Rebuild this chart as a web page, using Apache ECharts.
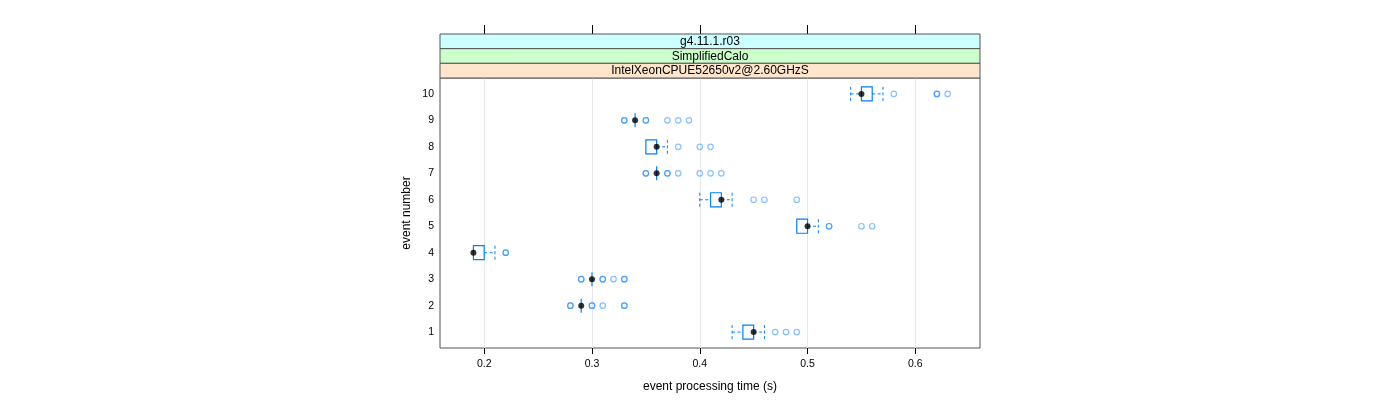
<!DOCTYPE html>
<html>
<head>
<meta charset="utf-8">
<script src="https://cdn.jsdelivr.net/npm/echarts@6/dist/echarts.min.js"></script>
<style>html,body{margin:0;padding:0;background:#fff}#c{width:1400px;height:400px}</style>
</head>
<body>
<div id="c"></div>
<script>
// ---- data ----
const events      = [1, 2, 3, 4, 5, 6, 7, 8, 9, 10];
const whiskerLow  = [0.43, 0.29, 0.30, 0.19, 0.49, 0.40, 0.36, 0.35, 0.34, 0.54];
const quart1      = [0.44, 0.29, 0.30, 0.19, 0.49, 0.41, 0.36, 0.35, 0.34, 0.55];
const medians     = [0.45, 0.29, 0.30, 0.19, 0.50, 0.42, 0.36, 0.36, 0.34, 0.55];
const quart3      = [0.45, 0.29, 0.30, 0.20, 0.50, 0.42, 0.36, 0.36, 0.34, 0.56];
const whiskerHigh = [0.46, 0.29, 0.30, 0.21, 0.51, 0.43, 0.36, 0.37, 0.34, 0.57];
const outliers = [
  [0.47, 0.48, 0.49],
  [0.28, 0.28, 0.30, 0.30, 0.31, 0.33, 0.33],
  [0.29, 0.29, 0.31, 0.31, 0.32, 0.33, 0.33],
  [0.22, 0.22],
  [0.52, 0.52, 0.55, 0.56],
  [0.45, 0.46, 0.49],
  [0.35, 0.35, 0.37, 0.37, 0.38, 0.40, 0.41, 0.42],
  [0.38, 0.40, 0.41],
  [0.33, 0.33, 0.35, 0.35, 0.37, 0.38, 0.39],
  [0.58, 0.62, 0.62, 0.63]
];
const xTicks = [0.2, 0.3, 0.4, 0.5, 0.6];
const yTicks = [1, 2, 3, 4, 5, 6, 7, 8, 9, 10];
const stripLabels = ['g4.11.1.r03', 'SimplifiedCalo', 'IntelXeonCPUE52650v2@2.60GHzS'];
const stripColors = ['#ccffff', '#ccffcc', '#ffe5cc'];
const xTitle = 'event processing time (s)';
const yTitle = 'event number';

// ---- build ----
const FONT = '"Liberation Sans", Arial, Helvetica, sans-serif';
const BLUE = '#0080ff';
const BORDER = '#555';
const boxData = events.map((e, i) => [e, whiskerLow[i], quart1[i], medians[i], quart3[i], whiskerHigh[i]]);
const medData = events.map((e, i) => [medians[i], e]);
const outData = [];
events.forEach((e, i) => outliers[i].forEach(v => outData.push([v, e])));

const GL = 440, GR = 420, GT = 78, GB = 52;
const stripTop = 34, stripH = (GT - stripTop) / 3;

const graphics = stripLabels.map((t, i) => ({
  type: 'group',
  children: [
    { type: 'rect', shape: { x: GL, y: stripTop + i * stripH, width: 1400 - GL - GR, height: stripH },
      style: { fill: stripColors[i], stroke: BORDER, lineWidth: 1 }, z: 10 },
    { type: 'text', x: GL + (1400 - GL - GR) / 2, y: stripTop + i * stripH + stripH / 2 + 0.5,
      style: { text: t, fill: '#000', font: '12px ' + FONT, align: 'center', verticalAlign: 'middle' }, z: 11 }
  ]
}));

function renderBox(params, api) {
  const y = api.value(0);
  const lo = api.value(1), q1 = api.value(2), md = api.value(3), q3 = api.value(4), hi = api.value(5);
  const h = 0.265;
  const yc = api.coord([q1, y])[1];
  const yt = api.coord([q1, y + h])[1];
  const yb = api.coord([q1, y - h])[1];
  const xLo = api.coord([lo, y])[0], x1 = api.coord([q1, y])[0], x3 = api.coord([q3, y])[0], xHi = api.coord([hi, y])[0];
  const dash = { stroke: BLUE, lineWidth: 1, lineDash: [3, 2.5], fill: null };
  const children = [];
  if (xLo < x1 - 0.5) {
    children.push({ type: 'line', shape: { x1: xLo, y1: yc, x2: x1, y2: yc }, style: dash });
    children.push({ type: 'line', shape: { x1: xLo, y1: yt, x2: xLo, y2: yb }, style: dash });
  }
  if (xHi > x3 + 0.5) {
    children.push({ type: 'line', shape: { x1: x3, y1: yc, x2: xHi, y2: yc }, style: dash });
    children.push({ type: 'line', shape: { x1: xHi, y1: yt, x2: xHi, y2: yb }, style: dash });
  }
  children.push({ type: 'rect', shape: { x: x1, y: yt, width: Math.max(x3 - x1, 0), height: yb - yt },
    style: { stroke: BLUE, lineWidth: 1.2, fill: null } });
  return { type: 'group', children };
}

const chart = echarts.init(document.getElementById('c'), null, { renderer: 'canvas' });
chart.setOption({
  animation: false,
  backgroundColor: '#fff',
  textStyle: { fontFamily: FONT },
  grid: { left: GL, right: GR, top: GT, bottom: GB, show: true, borderColor: BORDER, borderWidth: 1, backgroundColor: 'transparent' },
  xAxis: [{
    type: 'value', min: 0.159, max: 0.66, position: 'bottom',
    axisLine: { show: false },
    axisTick: { show: true, length: 6, inside: false, customValues: xTicks, lineStyle: { color: '#000' } },
    axisLabel: { customValues: xTicks, color: '#000', fontSize: 10.5, margin: 11, fontFamily: FONT, formatter: v => String(v) },
    splitLine: { show: true, lineStyle: { color: '#e8e8e8', width: 1 } },
    name: xTitle, nameLocation: 'middle', nameGap: 33,
    nameTextStyle: { color: '#000', fontSize: 12, fontFamily: FONT }
  }, {
    type: 'value', min: 0.159, max: 0.66, position: 'top', offset: GT - stripTop,
    axisLine: { show: false },
    axisTick: { show: true, length: 9, inside: false, customValues: xTicks, lineStyle: { color: '#000' } },
    axisLabel: { show: false },
    splitLine: { show: false }
  }],
  yAxis: {
    type: 'value', min: 0.4, max: 10.6,
    axisLine: { show: false },
    axisTick: { show: false, customValues: yTicks },
    axisLabel: { customValues: yTicks, color: '#000', fontSize: 10.5, margin: 6, fontFamily: FONT },
    splitLine: { show: false },
    name: yTitle, nameLocation: 'middle', nameGap: 27, nameRotate: 90,
    nameTextStyle: { color: '#000', fontSize: 12, fontFamily: FONT }
  },
  graphic: graphics,
  series: [
    { type: 'custom', renderItem: renderBox, data: boxData, encode: { x: [1, 2, 3, 4, 5], y: 0 }, z: 2, clip: false },
    { type: 'scatter', data: outData, symbol: 'circle', symbolSize: 5.5, z: 3,
      itemStyle: { color: 'rgba(0,0,0,0)', borderColor: 'rgba(0,128,255,0.6)', borderWidth: 1.2 } },
    { type: 'scatter', data: medData, symbol: 'circle', symbolSize: 6, z: 4,
      itemStyle: { color: '#000', borderWidth: 0 } }
  ]
});
</script>
</body>
</html>
